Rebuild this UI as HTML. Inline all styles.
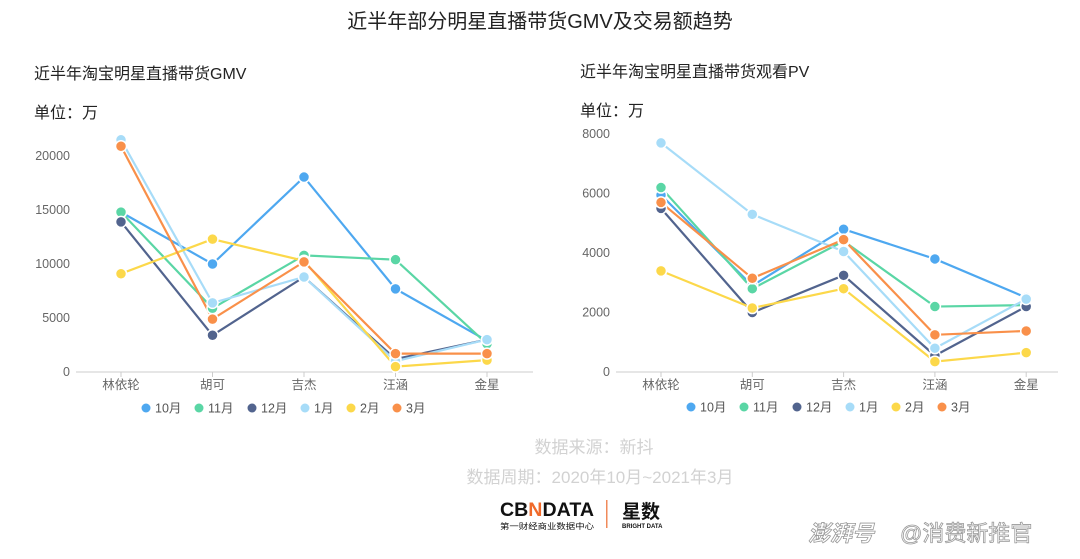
<!DOCTYPE html>
<html><head><meta charset="utf-8"><style>
body{margin:0;background:#fff;width:1080px;height:554px;overflow:hidden;font-family:"Liberation Sans","Noto Sans CJK SC",sans-serif;}
svg text{font-family:"Liberation Sans","Noto Sans CJK SC",sans-serif;}
</style></head><body>
<svg id="s" width="1080" height="554" viewBox="0 0 1080 554">
<text x="540" y="28" text-anchor="middle" font-size="20" fill="#222">近半年部分明星直播带货GMV及交易额趋势</text>
<text x="34" y="79" font-size="16" fill="#222">近半年淘宝明星直播带货GMV</text>
<text x="34" y="118" font-size="16" fill="#222">单位：万</text>
<text x="580" y="77" font-size="16" fill="#222">近半年淘宝明星直播带货观看PV</text>
<text x="580" y="116" font-size="16" fill="#222">单位：万</text>
<text x="594" y="453" text-anchor="middle" font-size="17" fill="#d2d2d2">数据来源：新抖</text>
<text x="600" y="483" text-anchor="middle" font-size="17" fill="#d2d2d2">数据周期：2020年10月~2021年3月</text>
<g>
<text x="500" y="516" font-size="19" font-weight="bold" fill="#111" textLength="94" lengthAdjust="spacingAndGlyphs">CB<tspan fill="#f06a2a">N</tspan>DATA</text>
<text x="500" y="529" font-size="8" fill="#111" textLength="94" lengthAdjust="spacingAndGlyphs">第一财经商业数据中心</text>
<rect x="606" y="500" width="1.5" height="28" fill="#f08a5a"/>
<text x="622" y="518" font-size="19" font-weight="bold" fill="#111">星数</text>
<text x="622" y="528" font-size="6" font-weight="bold" fill="#111">BRIGHT DATA</text>
</g>
<text x="808" y="541" font-size="22" font-style="italic" font-weight="bold" fill="#fff" stroke="#999" stroke-width="0.8">澎湃号</text>
<text x="900" y="541" font-size="22" fill="#fff" stroke="#999" stroke-width="0.8">@消费新推官</text>
</svg>
<script>
const cats=["林依轮","胡可","吉杰","汪涵","金星"];
const months=["10月","11月","12月","1月","2月","3月"];
const colors=["#4ea8f0","#5ad6a5","#52648e","#a7dcf8","#fcd84a","#f9904a"];
const gmv10=[14800,10000,18050,7700,2900];
const gmv11=[14800,5900,10800,10400,2600];
const gmv12=[13900,3400,8800,1200,3000];
const gmv1=[21500,6400,8800,1000,3000];
const gmv2=[9100,12300,10300,500,1100];
const gmv3=[20900,4900,10200,1700,1700];
const pv10=[5950,2900,4800,3800,2500];
const pv11=[6200,2800,4400,2200,2250];
const pv12=[5500,2000,3250,550,2200];
const pv1=[7700,5300,4050,800,2450];
const pv2=[3400,2150,2800,350,650];
const pv3=[5700,3150,4450,1250,1380];
const leftTicks=[0,5000,10000,15000,20000];
const rightTicks=[0,2000,4000,6000,8000];
const NS="http://www.w3.org/2000/svg";
const svg=document.getElementById('s');
function mk(t,a,p){const e=document.createElementNS(NS,t);for(const k in a)e.setAttribute(k,a[k]);(p||svg).appendChild(e);return e;}
function chart(o){
  const g=mk('g',{});
  
  
  const y=v=>o.y0-(v-0)/o.max*(o.y0-o.yTop);
  const x=i=>o.x0+i*o.dx;
  o.ticks.forEach(t=>{const tx=mk('text',{x:o.tickX,y:y(t)+4,'text-anchor':'end','font-size':12.5,fill:'#666'},g);tx.textContent=t;
    });
  const ax=mk('line',{x1:o.axL,x2:o.axR,y1:o.y0,y2:o.y0,stroke:'#ccc','stroke-width':1},g);
  
  cats.forEach((c,i)=>{mk('line',{x1:x(i),x2:x(i),y1:o.y0,y2:o.y0+5,stroke:'#ccc'},g);
    const t=mk('text',{x:x(i),y:o.y0+17,'text-anchor':'middle','font-size':12.5,fill:'#666'},g);t.textContent=c;
    });
  o.series.forEach((s,si)=>{
    const pts=s.map((v,i)=>x(i)+','+y(v)).join(' ');
    const pl=mk('polyline',{points:pts,fill:'none',stroke:colors[si],'stroke-width':2.2},g);
    
  });
  o.series.forEach((s,si)=>{s.forEach((v,i)=>{
    const c=mk('circle',{cx:x(i),cy:y(v),r:5.5,fill:colors[si],stroke:'#fff','stroke-width':1.5},g);
    });});
  let lx=o.legX;
  months.forEach((m,i)=>{
    const lg=mk('g',{},g);
    
    mk('circle',{cx:lx,cy:o.legY,r:4.5,fill:colors[i]},lg);
    const t=mk('text',{x:lx+9,y:o.legY+4.5,'font-size':12.5,fill:'#555'},lg);t.textContent=m;
    lx+= m.length===3?53:46;
  });
}
chart({name:'gmv-chart',series:[gmv10,gmv11,gmv12,gmv1,gmv2,gmv3],ticks:leftTicks,max:20000,y0:372,yTop:156,x0:121,dx:91.5,tickX:70,axL:76,axR:533,legX:146,legY:408});
chart({name:'pv-chart',series:[pv10,pv11,pv12,pv1,pv2,pv3],ticks:rightTicks,max:8000,y0:372,yTop:134,x0:661,dx:91.3,tickX:610,axL:616,axR:1058,legX:691,legY:407});
</script>
</body></html>
